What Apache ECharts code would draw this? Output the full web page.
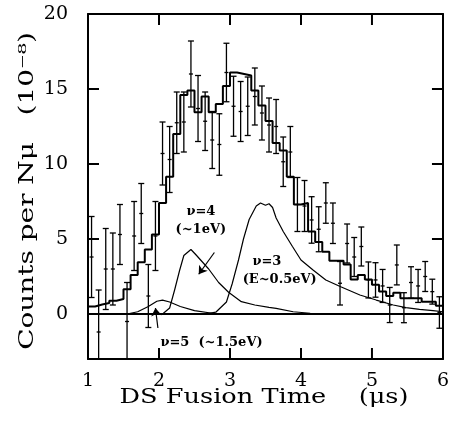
<!DOCTYPE html>
<html>
<head>
<meta charset="utf-8">
<script src="https://cdn.jsdelivr.net/npm/echarts@6/dist/echarts.min.js"></script>
<style>
  html, body { margin: 0; padding: 0; background: #fff; }
  #chart { width: 452px; height: 428px; }
</style>
</head>
<body>
<div id="chart"></div>
<script>
// histogram of measured counts, 0.1 us bins
var binEdges = [1.0, 1.1, 1.2, 1.3, 1.4, 1.5, 1.6, 1.7, 1.8, 1.9,
  2.0, 2.1, 2.2, 2.3, 2.4, 2.5, 2.6, 2.7, 2.8, 2.9,
  3.0, 3.1, 3.2, 3.3, 3.4, 3.5, 3.6, 3.7, 3.8, 3.9,
  4.0, 4.1, 4.2, 4.3, 4.4, 4.5, 4.6, 4.7, 4.8, 4.9,
  5.0, 5.1, 5.2, 5.3, 5.4, 5.5, 5.6, 5.7, 5.8, 5.9, 6.0];
var histCounts = [0.5, 0.63, 0.73, 0.88, 1.0, 1.65, 2.6, 3.45, 4.3, 5.3,
  7.4, 9.15, 12.0, 14.6, 14.9, 13.45, 14.5, 13.45, 14.0, 15.2,
  16.1, 16.0, 15.9, 14.9, 13.9, 12.87, 11.4, 10.9, 9.15, 7.3,
  7.4, 5.5, 4.8, 4.15, 3.55, 3.55, 3.3, 2.3, 2.6, 2.3,
  1.95, 1.5, 1.2, 1.42, 1.05, 1.05, 1.05, 0.82, 0.82, 0.55];

// points with error bars
var binCenters = [1.05, 1.15, 1.25, 1.35, 1.45, 1.55, 1.65, 1.75, 1.85, 1.95,
  2.05, 2.15, 2.25, 2.35, 2.45, 2.55, 2.65, 2.75, 2.85, 2.95,
  3.05, 3.15, 3.25, 3.35, 3.45, 3.55, 3.65, 3.75, 3.85, 3.95,
  4.05, 4.15, 4.25, 4.35, 4.45, 4.55, 4.65, 4.75, 4.85, 4.95,
  5.05, 5.15, 5.25, 5.35, 5.45, 5.55, 5.65, 5.75, 5.85, 5.95];
var pointValues = [3.8, -1.2, 3.0, 3.0, 5.3, -0.5, 5.2, 6.7, 1.2, 5.2,
  10.7, 10.3, 12.75, 12.8, 16.0, 13.7, 12.85, 11.6, 11.3, 16.1,
  13.85, 13.5, 13.85, 14.5, 13.4, 12.6, 12.5, 10.15, 10.8, 7.3,
  7.2, 6.27, 5.65, 7.4, 6.05, 2.05, 4.7, 3.8, 4.5, 2.27,
  2.27, 1.87, 0.6, 3.27, 0.42, 2.1, 1.87, 2.5, 1.49, 0.1];
var pointErrors = [2.7, 2.8, 2.7, 2.4, 2.0, 2.6, 2.3, 2.0, 2.1, 2.3,
  2.1, 2.2, 2.05, 2.0, 2.2, 2.2, 1.95, 1.9, 2.05, 1.95,
  2.0, 2.0, 1.95, 1.9, 1.8, 1.8, 1.8, 1.65, 1.7, 1.8,
  1.7, 1.55, 1.5, 1.35, 1.35, 1.45, 1.3, 1.3, 1.3, 1.2,
  1.15, 1.1, 1.17, 1.33, 1.0, 1.05, 1.1, 1.0, 0.83, 1.05];

// calculated contributions
var nu3Time = [2.65, 2.8, 2.95, 3.03, 3.12, 3.19, 3.27, 3.37, 3.43, 3.5, 3.55, 3.6, 3.65, 3.75, 3.88, 4.0, 4.17, 4.35, 4.56, 4.83, 5.06, 5.3, 5.48, 5.67, 5.86, 6.0];
var nu3Counts = [0, 0.12, 0.8, 2.0, 3.6, 5.0, 6.3, 7.2, 7.4, 7.25, 7.35, 7.1, 6.4, 5.5, 4.5, 3.6, 2.93, 2.27, 1.82, 1.27, 0.93, 0.6, 0.42, 0.31, 0.22, 0.15];
var nu4Time = [2.05, 2.15, 2.22, 2.29, 2.35, 2.45, 2.52, 2.7, 2.84, 2.98, 3.16, 3.35, 3.55, 3.65, 3.89, 4.13, 4.5];
var nu4Counts = [0, 0.4, 1.6, 2.9, 3.9, 4.3, 3.95, 3.0, 2.1, 1.45, 0.82, 0.6, 0.44, 0.38, 0.15, 0.05, 0];
var nu5Time = [1.55, 1.7, 1.85, 1.97, 2.05, 2.15, 2.3, 2.5, 2.75, 3.0];
var nu5Counts = [0, 0.15, 0.5, 0.85, 0.93, 0.8, 0.5, 0.22, 0.05, 0];

var yLabelValues = [0, 5, 10, 15, 20];
var yTickValues = [0, 5, 10, 15];
var xTickValues = [2, 3, 4, 5];

var FONT = "'DejaVu Serif', serif";
var X_MIN = 1, X_MAX = 6, Y_MIN = -3, Y_MAX = 20;
var TICK = 11;

function pairs(xs, ys) {
  return xs.map(function (x, i) { return [x, ys[i]]; });
}

var histData = binEdges.map(function (e, i) {
  return [e, histCounts[Math.min(i, histCounts.length - 1)]];
});
var errData = binCenters.map(function (c, i) {
  return [c, pointValues[i], pointErrors[i]];
});

function renderErr(params, api) {
  var cs = params.coordSys;
  var x = api.value(0), v = api.value(1), e = api.value(2);
  var top = api.coord([x, v + e]);
  var bot = api.coord([x, v - e]);
  var mid = api.coord([x, v]);
  var y0 = cs.y, y1 = cs.y + cs.height;
  var st = { stroke: '#000', lineWidth: 1.3 };
  var kids = [{
    type: 'line',
    shape: { x1: top[0], y1: Math.max(top[1], y0), x2: bot[0], y2: Math.min(bot[1], y1) },
    style: st
  }];
  if (top[1] >= y0) kids.push({ type: 'line', shape: { x1: top[0] - 3, y1: top[1], x2: top[0] + 3, y2: top[1] }, style: st });
  if (bot[1] <= y1) kids.push({ type: 'line', shape: { x1: bot[0] - 3, y1: bot[1], x2: bot[0] + 3, y2: bot[1] }, style: st });
  if (mid[1] >= y0 && mid[1] <= y1) kids.push({ type: 'line', shape: { x1: mid[0] - 2, y1: mid[1], x2: mid[0] + 2, y2: mid[1] }, style: st });
  return { type: 'group', children: kids };
}

function note(x, y, text) {
  return {
    coord: [x, y],
    symbol: 'circle',
    symbolSize: 0,
    label: {
      show: true, position: 'inside', formatter: text,
      fontFamily: FONT, fontWeight: 'bold', fontSize: 13, color: '#000'
    }
  };
}

var lineAx = { show: true, onZero: false, lineStyle: { color: '#000', width: 2 } };
var labelFont = { fontFamily: FONT, fontSize: 19, color: '#000' };

var chart = echarts.init(document.getElementById('chart'));

var option = {
  animation: false,
  backgroundColor: '#fff',
  grid: { left: 88, right: 9, top: 14, bottom: 69 },
  xAxis: [{
    type: 'value', min: X_MIN, max: X_MAX, interval: 1, position: 'bottom',
    axisLine: lineAx, axisTick: { show: false }, splitLine: { show: false },
    axisLabel: Object.assign({ margin: 13 }, labelFont)
  }, {
    type: 'value', min: X_MIN, max: X_MAX, interval: 1, position: 'top',
    axisLine: lineAx, axisTick: { show: false }, splitLine: { show: false },
    axisLabel: { show: false }
  }],
  yAxis: [{
    type: 'value', min: Y_MIN, max: Y_MAX, position: 'left',
    axisLine: lineAx, axisTick: { show: false }, splitLine: { show: false },
    axisLabel: Object.assign({ margin: 20, customValues: yLabelValues }, labelFont)
  }, {
    type: 'value', min: Y_MIN, max: Y_MAX, position: 'right',
    axisLine: lineAx, axisTick: { show: false }, splitLine: { show: false },
    axisLabel: { show: false }
  }],
  graphic: [{
    id: 'ytitle',
    type: 'text',
    x: 28, y: 191,
    rotation: Math.PI / 2,
    scaleX: 1.33,
    style: {
      text: 'Counts per Nμ   (10⁻⁸)',
      fontFamily: FONT, fontSize: 21, fill: '#000',
      align: 'center', verticalAlign: 'middle',
      textAlign: 'center', textVerticalAlign: 'middle'
    }
  }, {
    id: 'xtitle',
    type: 'text',
    x: 264, y: 398,
    scaleX: 1.22,
    style: {
      text: 'DS Fusion Time    (μs)',
      fontFamily: FONT, fontSize: 21, fill: '#000',
      align: 'center', verticalAlign: 'middle',
      textAlign: 'center', textVerticalAlign: 'middle'
    }
  }],
  series: [{
    name: 'data',
    type: 'line',
    step: 'end',
    data: histData,
    showSymbol: false,
    lineStyle: { color: '#000', width: 2 },
    markLine: {
      silent: true,
      symbol: 'none',
      label: { show: false },
      lineStyle: { color: '#000', width: 2, type: 'solid' },
      data: [{ yAxis: 0 }]
    }
  }, {
    name: 'errors',
    type: 'custom',
    renderItem: renderErr,
    data: errData,
    z: 3
  }, {
    name: 'nu3',
    type: 'line',
    data: pairs(nu3Time, nu3Counts),
    showSymbol: false,
    lineStyle: { color: '#000', width: 1.2 },
    markPoint: {
      data: [
        note(3.52, 3.47, 'ν=3'),
        note(3.70, 2.27, '(E~0.5eV)'),
        note(2.59, 6.8, 'ν=4'),
        note(2.59, 5.6, '(~1eV)'),
        note(2.74, -1.93, 'ν=5  (~1.5eV)')
      ]
    }
  }, {
    name: 'nu4',
    type: 'line',
    data: pairs(nu4Time, nu4Counts),
    showSymbol: false,
    lineStyle: { color: '#000', width: 1.2 },
    markLine: {
      silent: true,
      symbol: ['none', 'arrow'],
      symbolSize: 8,
      label: { show: false },
      lineStyle: { color: '#000', width: 1.2, type: 'solid' },
      data: [
        [{ coord: [2.78, 4.1] }, { coord: [2.56, 2.65] }],
        [{ coord: [1.985, -0.93] }, { coord: [1.95, 0.4] }]
      ]
    }
  }, {
    name: 'nu5',
    type: 'line',
    data: pairs(nu5Time, nu5Counts),
    showSymbol: false,
    lineStyle: { color: '#000', width: 1.2 }
  }]
};

chart.setOption(option);

// inside ticks on all four sides, placed through the axes
var toPx = function (p) { return chart.convertToPixel({ xAxisIndex: 0, yAxisIndex: 0 }, p); };
var corner0 = toPx([X_MIN, Y_MIN]);
var corner1 = toPx([X_MAX, Y_MAX]);
var tickStyle = { stroke: '#000', lineWidth: 2 };
var ticks = [];
xTickValues.forEach(function (v, i) {
  var x = toPx([v, 0])[0];
  ticks.push({ id: 'tb' + i, type: 'line', z: 100, shape: { x1: x, y1: corner0[1], x2: x, y2: corner0[1] - TICK }, style: tickStyle });
  ticks.push({ id: 'tt' + i, type: 'line', z: 100, shape: { x1: x, y1: corner1[1], x2: x, y2: corner1[1] + TICK }, style: tickStyle });
});
yTickValues.forEach(function (v, i) {
  var y = toPx([X_MIN, v])[1];
  ticks.push({ id: 'tl' + i, type: 'line', z: 100, shape: { x1: corner0[0], y1: y, x2: corner0[0] + TICK, y2: y }, style: tickStyle });
  ticks.push({ id: 'tr' + i, type: 'line', z: 100, shape: { x1: corner1[0], y1: y, x2: corner1[0] - TICK, y2: y }, style: tickStyle });
});
chart.setOption({ graphic: ticks });
</script>
</body>
</html>
